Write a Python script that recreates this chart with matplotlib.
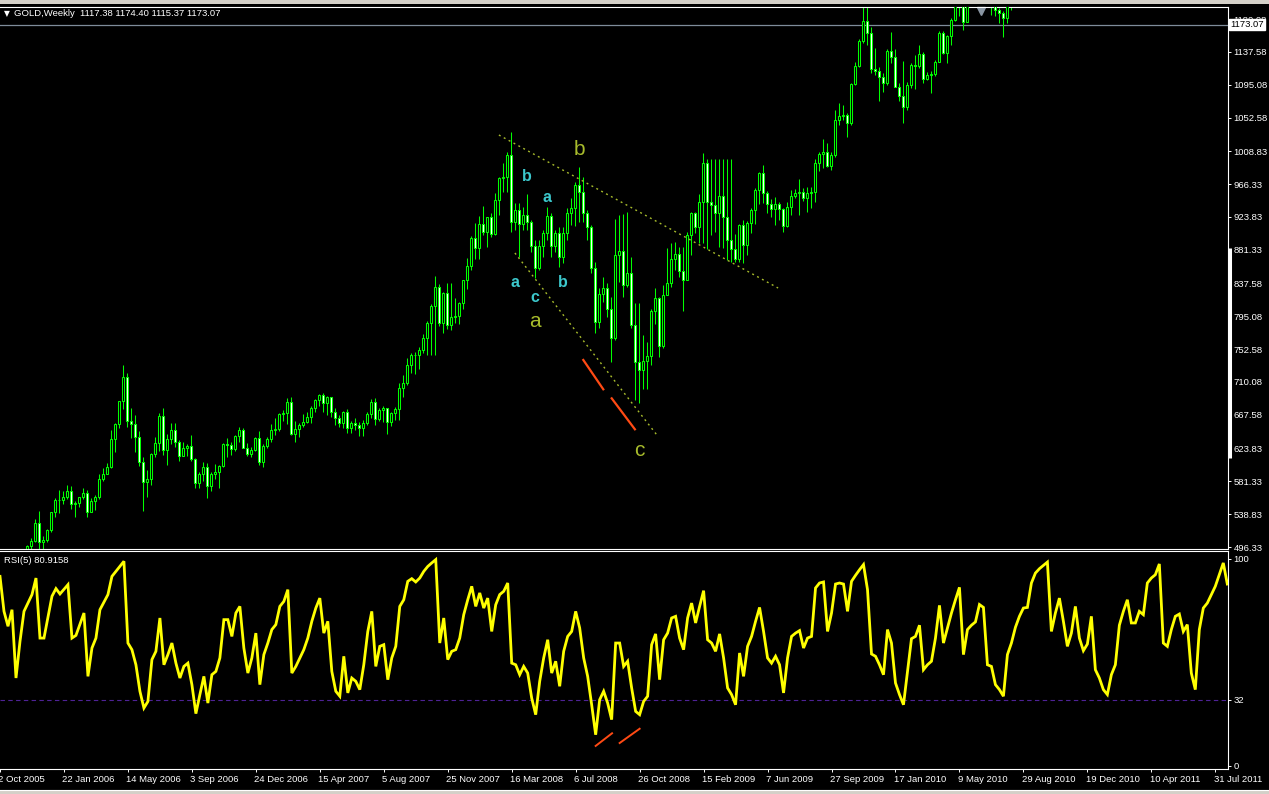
import numpy as np
import matplotlib
matplotlib.use('Agg')
import matplotlib.pyplot as plt
import matplotlib.transforms as mtransforms

plt.rcParams['font.family'] = ['Liberation Sans', 'DejaVu Sans']

W, H = 1269, 794
GREEN = '#00FF00'
OLIVE = '#A8BC2C'
CYAN = '#3CC8CC'
RED = '#FF4A14'

# weekly candles, bar index 0 = week of 2 Oct 2005 (open = previous close)
first_week = 7
first_open = 494.0
closes = [497.6, 504.5, 527.0, 503.2, 505.4, 518.3, 541.2, 557.2, 556.8, 561.1,
          568.8, 551.6, 553.3, 561.1, 565.8, 542.1, 555.5, 561.1, 584.4, 590.4,
          599.5, 635.8, 655.6, 685.0, 716.1, 660.0, 655.6, 639.2, 606.8, 580.9,
          584.0, 616.3, 630.6, 666.0, 622.4, 635.8, 647.9, 632.8, 614.6, 624.1,
          627.1, 610.7, 578.8, 590.9, 599.5, 575.3, 591.3, 593.5, 600.8, 629.7,
          628.9, 622.8, 640.1, 647.4, 625.0, 616.3, 622.0, 637.5, 606.8,
          627.2, 635.8, 647.9, 649.2, 668.6, 669.9, 683.7, 642.7, 648.7, 654.3,
          658.2, 664.3, 676.8, 686.7, 693.2, 682.4, 690.2, 671.6, 663.0, 656.5,
          671.6, 650.0, 656.5, 654.8, 650.0, 656.5, 668.6, 684.6, 661.7, 673.8,
          676.4, 658.7, 669.5, 675.1, 701.9, 708.3, 731.6, 744.6, 745.0, 751.5,
          766.6, 786.1, 808.5, 832.7, 786.9, 824.9, 783.9, 794.7, 796.0, 812.0,
          842.2, 860.3, 896.2, 883.2, 914.3, 904.8, 923.4, 901.8, 945.8, 973.9,
          976.0, 1004.1,
          917.7, 932.8, 914.2, 926.3, 916.8, 886.6, 857.3, 886.2, 902.6, 925.5,
          886.6, 902.6, 871.5, 902.6, 928.5, 935.0, 965.2, 955.7, 929.4, 911.2,
          857.3, 788.2, 824.0, 831.3, 804.1, 766.6, 874.5, 879.7, 835.7, 850.8,
          783.8, 735.5, 725.5, 737.6, 743.7, 802.4, 818.4, 756.6, 822.7, 837.8,
          869.3, 875.8, 854.2, 842.1, 900.4,
          928.6, 911.3, 942.8, 993.3, 942.8, 939.3, 929.4, 951.4, 923.4, 894.0,
          881.9, 869.0, 913.4, 887.1, 916.5, 932.9, 958.8, 980.4, 955.3, 940.6,
          933.7, 940.6, 933.7, 912.6, 937.2, 951.4, 955.3, 955.7, 948.8, 955.3,
          955.7, 993.3, 1005.0, 1007.6, 990.3, 1004.1, 1049.5, 1054.6, 1055.9, 1045.1,
          1095.7, 1119.4, 1151.8, 1177.3, 1161.7, 1115.1, 1113.4, 1105.6, 1096.9, 1138.8,
          1130.6, 1092.6, 1081.0, 1066.7, 1094.4, 1120.3, 1119.4, 1134.5, 1102.1, 1107.7,
          1109.0, 1124.6, 1162.6, 1136.7, 1158.3, 1179.0,
          1200.0, 1225.0, 1176.8, 1205.0, 1215.0, 1225.0, 1240.0, 1238.0, 1205.0, 1200.0,
          1191.9, 1188.5, 1181.2, 1200.0, 1210.0]
highs = [498.9, 507.5, 532.6, 542.9, 510.6, 519.2, 542.1, 559.3, 570.1, 568.8,
         576.6, 575.3, 555.9, 561.1, 572.3, 570.1, 559.3, 563.2, 590.4, 599.1,
         604.7, 647.9, 656.9, 685.4, 732.1, 721.7, 675.9, 667.3, 646.6, 612.5,
         596.1, 617.6, 638.4, 669.5, 676.4, 642.7, 656.5, 656.5, 634.9, 631.9,
         629.7, 641.4, 611.2, 593.9, 606.8, 604.7, 593.5, 603.8, 602.5, 630.6,
         637.5, 632.8, 641.4, 651.8, 650.0, 631.5, 625.4, 638.4, 646.6,
         630.0, 639.2, 655.6, 663.0, 670.3, 673.8, 689.8, 691.1, 659.5, 656.5,
         668.6, 670.8, 679.0, 687.6, 694.5, 695.4, 692.4, 691.1, 676.0, 667.3,
         672.9, 674.6, 659.5, 663.0, 657.8, 660.8, 671.6, 687.6, 688.9, 676.0,
         679.0, 676.0, 671.6, 678.1, 708.3, 719.1, 740.7, 747.2, 749.4, 755.0,
         772.2, 789.5, 811.1, 847.4, 837.0, 827.1, 837.9, 837.9, 818.4, 813.3,
         842.2, 870.3, 899.2, 915.6, 925.1, 938.1, 923.4, 928.5, 954.5, 976.0,
         994.2, 1007.6,
         1033.4, 941.4, 941.4, 937.1, 953.5, 919.9, 894.0, 893.9, 906.9, 936.3,
         928.5, 906.9, 910.4, 911.2, 935.0, 947.9, 969.5, 989.0, 976.0, 932.8,
         913.4, 865.9, 831.3, 845.6, 837.8, 820.5, 921.2, 926.3, 927.6, 930.6,
         872.4, 812.8, 811.9, 770.9, 762.3, 804.1, 831.3, 820.5, 835.7, 883.2,
         890.5, 891.0, 885.3, 885.3, 904.7,
         930.7, 930.7, 953.6, 1006.3, 998.5, 998.5, 998.5, 998.5, 998.5, 998.5,
         998.5, 901.3, 914.7, 919.9, 918.6, 935.0, 961.0, 982.5, 991.2, 957.5,
         946.7, 950.1, 943.7, 935.0, 943.7, 958.8, 959.6, 973.0, 961.0, 963.1,
         963.1, 998.5, 1008.4, 1024.8, 1020.1, 1008.4, 1062.4, 1071.0, 1068.9, 1058.1,
         1097.0, 1125.0, 1154.0, 1226.0, 1204.0, 1169.5, 1142.3, 1118.5, 1109.9, 1141.0,
         1163.9, 1141.0, 1097.0, 1126.3, 1099.1, 1122.9, 1133.6, 1146.6, 1138.0, 1112.1,
         1113.4, 1127.2, 1165.2, 1165.2, 1159.6, 1182.0,
         1215.0, 1240.0, 1230.0, 1215.0, 1225.0, 1235.0, 1250.0, 1250.0, 1240.0, 1215.0,
         1210.0, 1195.0, 1190.0, 1210.0, 1220.0]
lows = [492.0, 492.0, 503.2, 492.0, 492.0, 503.2, 516.2, 535.6, 539.9, 552.0,
        558.5, 546.0, 535.6, 548.5, 558.1, 534.7, 541.2, 544.2, 558.5, 582.2,
        590.4, 599.1, 619.8, 650.9, 675.1, 652.2, 637.1, 619.8, 601.7, 543.4,
        561.5, 577.1, 613.3, 620.7, 615.5, 602.5, 629.3, 626.3, 608.1, 614.2,
        614.2, 607.7, 572.3, 573.2, 582.2, 560.2, 569.3, 584.8, 573.2, 599.5,
        613.3, 615.5, 621.1, 632.8, 624.1, 614.2, 613.3, 621.1, 602.5,
        600.0, 624.1, 632.8, 641.4, 647.0, 659.5, 655.6, 641.4, 632.8, 638.4,
        652.2, 656.5, 656.5, 671.6, 679.0, 671.6, 667.3, 664.3, 654.3, 652.2,
        650.0, 643.6, 643.6, 647.9, 640.1, 640.1, 654.3, 663.0, 654.3, 660.0,
        657.8, 642.7, 653.1, 660.8, 660.8, 691.1, 706.2, 721.3, 720.4, 726.9,
        748.1, 745.0, 745.0, 745.0, 783.0, 774.0, 778.7, 777.4, 786.9, 785.2,
        804.6, 830.5, 855.1, 869.4, 870.0, 900.0, 885.4, 897.5, 900.5, 926.4,
        956.6, 956.6,
        904.7, 906.9, 872.4, 906.9, 906.9, 878.8, 844.3, 855.1, 872.4, 893.9,
        872.4, 878.8, 859.4, 863.7, 893.9, 913.4, 912.1, 917.7, 917.7, 893.9,
        850.8, 773.9, 779.5, 814.1, 794.6, 736.3, 764.4, 840.0, 819.7, 833.5,
        779.5, 686.7, 682.4, 700.5, 700.5, 732.0, 785.1, 742.0, 753.6, 824.0,
        833.5, 855.1, 846.5, 802.4, 852.9,
        874.6, 902.6, 889.7, 890.5, 881.9, 900.5, 904.8, 884.5, 883.2, 868.1,
        866.0, 866.0, 866.0, 863.8, 874.6, 902.6, 914.7, 940.6, 941.5, 928.6,
        924.2, 913.4, 919.9, 904.8, 911.3, 926.4, 948.0, 926.4, 944.5, 930.7,
        935.0, 943.7, 983.8, 986.8, 989.0, 984.7, 1001.1, 1043.0, 1049.5, 1027.0,
        1043.0, 1094.8, 1118.5, 1149.6, 1146.6, 1109.9, 1107.7, 1074.5, 1086.2, 1094.8,
        1122.9, 1091.8, 1074.5, 1045.1, 1062.4, 1090.5, 1089.2, 1116.4, 1097.8, 1101.3,
        1084.9, 1106.5, 1125.0, 1135.0, 1122.9, 1146.6,
        1178.1, 1184.2, 1166.0, 1176.8, 1198.0, 1200.0, 1210.0, 1220.0, 1198.0, 1185.5,
        1184.2, 1174.7, 1157.4, 1174.7, 1192.0]

# RSI(5): bar index, value
rsi_week = [0, 1, 2, 3, 4, 5, 6, 8, 9, 10, 11, 13, 14, 15, 17, 18, 19, 21, 22, 23,
            24, 25, 27, 28, 31, 32, 33, 34, 35, 36, 37, 38, 39, 40, 41, 42, 43, 44, 45, 46,
            47, 48, 49, 50, 51, 52, 53, 54, 55, 56, 57, 58, 59, 60, 61, 62, 63, 64, 65, 66,
            67, 68, 69, 70, 71, 72, 73, 74, 75, 76, 77, 78, 79, 80, 81, 82, 83, 84, 85, 86,
            87, 88, 89, 90, 91, 92, 93, 94, 95, 96, 97, 98, 99, 100, 101, 102, 103, 104, 105, 106,
            107, 108, 109] + list(range(110, 308))
rsi_value = [91.6, 74.7, 67.5, 75.5, 42.5, 60.2, 74.7, 82.8, 90.8, 61.8,
             61.8, 82.0, 85.7, 83.1, 87.6, 61.8, 63.1, 73.9, 43.3, 57.0,
             61.8, 75.5, 82.8, 91.6, 98.9, 59.4, 56.2, 48.9, 36.1, 28.0,
             31.2, 51.4, 55.4, 71.5, 48.9, 53.8, 59.4, 49.7, 42.5, 48.1,
             49.7, 39.3, 25.3, 34.5, 43.3, 30.4, 44.1, 45.7, 52.2, 70.7,
             70.7, 62.6, 73.9, 77.1, 57.0, 44.9, 52.2, 64.2, 39.3, 53.8,
             59.4, 65.9, 68.3, 77.1, 79.5, 85.2, 44.9, 48.1, 52.2, 56.2,
             61.8, 69.9, 76.3, 81.1, 64.2, 69.9, 45.7, 36.1, 33.7, 53.0,
             35.3, 42.5, 40.9, 36.9, 48.9, 65.0, 74.7, 48.1, 57.8, 58.6,
             41.7, 52.2, 57.8, 77.1, 80.3, 89.2, 90.5, 88.9, 90.8, 94.0,
             96.4, 98.1, 99.7,
             59.4, 71.5, 51.4, 55.4, 56.2, 61.8, 73.1, 80.3, 86.8, 77.1,
             83.6, 76.3, 81.1, 65.0, 77.9, 82.8, 84.4, 88.4, 49.7, 48.9,
             44.1, 48.1, 44.9, 32.8, 24.8, 40.9, 52.2, 61.0, 44.9, 50.6,
             38.5, 55.4, 62.6, 65.0, 74.7, 66.7, 52.2, 43.3, 29.6, 15.1,
             32.0, 36.1, 30.4, 22.4, 59.4, 59.4, 48.1, 50.6, 37.7, 26.4,
             24.8, 31.2, 33.7, 58.6, 63.8, 41.7, 61.0, 64.2, 71.5, 72.3,
             61.8, 56.2, 71.5, 78.7, 69.1, 77.1, 84.7, 61.0, 59.4, 55.4,
             63.8, 52.2, 37.7, 34.5, 29.6, 54.6, 43.3, 57.8, 62.6, 69.9,
             76.6, 65.0, 52.2, 49.7, 53.0, 48.9, 35.3, 52.2, 62.6, 64.2,
             65.4, 57.0, 61.8, 62.6, 86.0, 88.4, 88.9, 65.0, 73.9, 87.9,
             88.4, 87.9, 74.7, 89.2, 92.1, 94.8, 97.3, 85.2, 54.1, 53.0,
             48.9, 44.1, 65.9, 59.4, 40.1, 34.5, 29.6, 45.7, 61.5, 62.6,
             68.0, 46.5, 48.9, 50.6, 61.8, 77.6, 59.4, 66.7, 73.9, 80.3,
             86.3, 53.8, 65.9, 68.0, 69.6, 78.0, 76.6, 48.9, 48.1, 39.3,
             36.9, 33.7, 53.8, 59.4, 67.0, 72.3, 76.3, 76.6, 88.4, 93.2,
             95.3, 96.9, 98.5, 65.0, 73.9, 81.1, 69.9, 57.8, 64.2, 77.1,
             61.8, 55.7, 58.9, 72.3, 46.5, 42.5, 36.9, 34.5, 44.1, 48.9,
             68.0, 74.7, 80.3, 69.1, 69.1, 74.7, 73.1, 88.4, 90.8, 92.4,
             97.6, 59.4, 57.8, 65.9, 72.3, 73.4, 65.0, 68.3, 44.9, 36.9,
             65.9, 76.3, 78.7, 82.8, 86.8, 92.4, 98.1, 87.9]

date_weeks = [0, 16, 32, 48, 64, 80, 96, 112, 128, 144, 160, 176, 192, 208, 224,
              240, 256, 272, 288, 304]
date_labels = ['2 Oct 2005', '22 Jan 2006', '14 May 2006', '3 Sep 2006', '24 Dec 2006',
               '15 Apr 2007', '5 Aug 2007', '25 Nov 2007', '16 Mar 2008', '6 Jul 2008',
               '26 Oct 2008', '15 Feb 2009', '7 Jun 2009', '27 Sep 2009', '17 Jan 2010',
               '9 May 2010', '29 Aug 2010', '19 Dec 2010', '10 Apr 2011', '31 Jul 2011']
price_ticks = [1180.08, 1137.58, 1095.08, 1052.58, 1008.83, 966.33, 923.83, 881.33,
               837.58, 795.08, 752.58, 710.08, 667.58, 623.83, 581.33, 538.83, 496.33]
rsi_ticks = [0, 32, 100]
bid = 1173.07

# wave annotations (bar index, price)
upper_trend = ([124.9, 194.7], [1030.0, 831.8])
lower_trend = ([128.9, 164.4], [877.2, 641.4])
red_price = [([146.0, 151.0], [738.6, 700.6]), ([153.1, 158.9], [688.9, 648.8])]
red_rsi = [([149.0, 153.1], [9.7, 15.8]), ([155.0, 160.0], [11.1, 18.0])]
big_labels = [('b', 145.0, 1010.6), ('a', 133.9, 788.2), ('c', 159.9, 620.7)]
small_labels = [('b', 132.0, 976.0), ('a', 137.0, 949.3), ('a', 128.9, 839.2),
                ('c', 133.9, 819.3), ('b', 141.0, 839.2)]

fig = plt.figure(figsize=(W / 100, H / 100), dpi=100, facecolor='black')


def panel(top, bottom):
    return fig.add_axes([0, 1 - bottom / H, 1228 / W, (bottom - top) / H], facecolor='black')


ax_p = panel(7, 549)
ax_r = panel(551, 769)

for ax in (ax_p, ax_r):
    ax.set_xlim(0.175, 307.175)
    for side in ('top', 'right', 'bottom'):
        ax.spines[side].set_color('white')
        ax.spines[side].set_linewidth(0.8)
    ax.spines['left'].set_visible(False)
    ax.yaxis.tick_right()
    ax.tick_params(axis='y', colors='white', labelsize=6.8, length=2.5, width=0.7, pad=1.5)

# ---- candles
c = np.array(closes)
o = np.r_[first_open, c[:-1]]
hi = np.maximum(np.array(highs), np.maximum(o, c))
lo = np.minimum(np.array(lows), np.minimum(o, c))
weeks = np.arange(first_week, first_week + len(c))
ax_p.vlines(weeks, lo, hi, color=GREEN, lw=0.75, zorder=2)
ax_p.bar(weeks, np.abs(c - o), bottom=np.minimum(o, c), width=0.5,
         color=np.where(c >= o, 'black', 'white'), edgecolor=GREEN, lw=0.75, zorder=3)

ax_p.set_ylim(493.74, 1195.81)
ax_p.set_xticks([])
ax_p.set_yticks(price_ticks)
ax_p.set_yticklabels(['%.2f' % p for p in price_ticks])

ax_p.axhline(bid, color='#7F8C9A', lw=0.9, zorder=1)
ax_p.text(1.0015, bid, '%.2f' % bid, transform=ax_p.get_yaxis_transform(), fontsize=6.8,
          color='black', va='center', ha='left',
          bbox=dict(boxstyle='square,pad=0.12', fc='white', ec='white'), zorder=10, clip_on=False)
ax_p.plot([1.0013, 1.0013], [883.6, 611.6], transform=ax_p.get_yaxis_transform(),
          color='white', lw=2.2, clip_on=False, solid_capstyle='butt')
ax_p.plot([245.4], [0.992], transform=ax_p.get_xaxis_transform(), marker='v',
          color='#8A96A3', markersize=6, clip_on=False)

# trend lines and wave counts
for line in (upper_trend, lower_trend):
    ax_p.plot(line[0], line[1], color=OLIVE, lw=1.0, ls=(0, (1.4, 2.6)), zorder=4)
for xs, ys in red_price:
    ax_p.plot(xs, ys, color=RED, lw=1.6, zorder=4)
for t, x, y in big_labels:
    ax_p.text(x, y, t, color=OLIVE, fontsize=15, ha='center', va='center', zorder=5)
for t, x, y in small_labels:
    ax_p.text(x, y, t, color=CYAN, fontsize=11.5, fontweight='bold', ha='center',
              va='center', zorder=5)

fig.text(4 / W, 1 - 14 / H, '\u25bc', color='white', fontsize=5.5, va='center', ha='left',
         family=['DejaVu Sans'])
fig.text(14 / W, 1 - 14 / H, 'GOLD,Weekly  1117.38 1174.40 1115.37 1173.07', color='white',
         fontsize=6.8, va='center', ha='left')

# ---- RSI
ax_r.plot(rsi_week, rsi_value, color='#FFFF00', lw=2.0, solid_joinstyle='miter', zorder=3)
ax_r.axhline(32, color='#4E2296', lw=0.8, ls=(0, (4, 3)), zorder=2)
for xs, ys in red_rsi:
    ax_r.plot(xs, ys, color=RED, lw=1.4, zorder=4)
ax_r.set_ylim(-1.45, 103.86)
ax_r.set_yticks(rsi_ticks)
ax_r.set_yticklabels([str(v) for v in rsi_ticks])
ax_r.set_xticks(date_weeks)
ax_r.set_xticklabels(date_labels)
ax_r.tick_params(axis='x', colors='white', labelsize=6.8, length=2.5, width=0.7, pad=1.5)
shift = mtransforms.ScaledTranslation(-1.6 / 100, 0, fig.dpi_scale_trans)
for lab in ax_r.get_xticklabels():
    lab.set_ha('left')
    lab.set_transform(lab.get_transform() + shift)
ax_r.text(0.003, 0.955, 'RSI(5) 80.9158', transform=ax_r.transAxes, color='white',
          fontsize=6.8, va='center', ha='left')

# window chrome
fig.patches.append(plt.Rectangle((0, 1 - 4 / H), 1, 4 / H, transform=fig.transFigure,
                                 fc='#D4D0C8', ec='none'))
fig.patches.append(plt.Rectangle((0, 0), 1, 4 / H, transform=fig.transFigure,
                                 fc='#D4D0C8', ec='none'))
fig.lines.append(plt.Line2D([0, 1], [1 - 789.5 / H] * 2, transform=fig.transFigure,
                            color='white', lw=0.8))

fig.savefig('out.png', dpi=100, facecolor='black')
